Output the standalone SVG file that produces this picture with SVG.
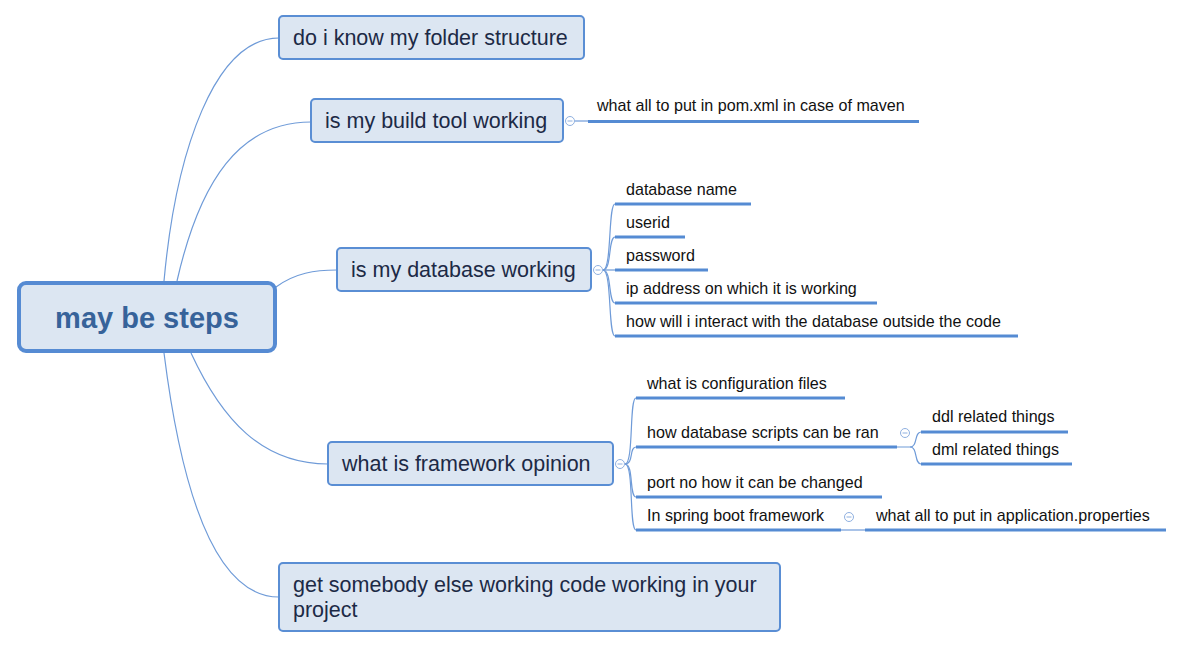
<svg xmlns="http://www.w3.org/2000/svg" width="1184" height="648" viewBox="0 0 1184 648">
<style>
.conn{fill:none;stroke:#6f9bd8;stroke-width:1.2}
.ul{fill:none;stroke:#558bd3;stroke-width:3}
.box{fill:#dce6f2;stroke:#5a8ed4;stroke-width:2}
.root{fill:#dce6f2;stroke:#568bd3;stroke-width:4}
.t{font-family:"Liberation Sans",Arial,sans-serif;font-size:21.5px;fill:#1c2a46}
.rt{font-family:"Liberation Sans",Arial,sans-serif;font-size:29px;font-weight:bold;fill:#37639a}
.s{font-family:"Liberation Sans",Arial,sans-serif;font-size:16.1px;fill:#111}
.col{fill:#fff;stroke:#8fb0e0;stroke-width:1}
.minus{stroke:#8fb0e0;stroke-width:1}
</style>
<rect width="1184" height="648" fill="#fff"/>
<g id="connectors">
<path class="conn" d="M164,281 C176,150 215,38 279,38"/>
<path class="conn" d="M177,281 C200,180 240,122 311,122"/>
<path class="conn" d="M276,287 C295,273 315,270 337,270"/>
<path class="conn" d="M191,353 C222,420 262,464 328,464"/>
<path class="conn" d="M164,353 C180,480 212,597 279,597"/>
<path class="conn" d="M575,121 L588,121"/>
<path class="conn" d="M603,270 C612,270 608,204 615,204"/>
<path class="conn" d="M603,270 C612,270 608,237 615,237"/>
<path class="conn" d="M603,270 L615,270"/>
<path class="conn" d="M603,270 C612,270 608,303 615,303"/>
<path class="conn" d="M603,270 C612,270 608,336 615,336"/>
<path class="conn" d="M625,464 C634,464 629,398 636,398"/>
<path class="conn" d="M625,464 C634,464 629,447 636,447"/>
<path class="conn" d="M625,464 C634,464 629,497 636,497"/>
<path class="conn" d="M625,464 C634,464 629,530 636,530"/>
<path class="conn" d="M897,447 L910,447 C918,447 914,432 921,432"/>
<path class="conn" d="M910,447 C918,447 914,464 921,464"/>
<path class="conn" d="M841,530 L865,530"/>
</g>
<g id="root">
<rect class="root" x="19" y="283" width="256" height="68" rx="7"/>
<text class="rt" x="147" y="328" text-anchor="middle">may be steps</text>
</g>
<g id="n1">
<rect class="box" x="279" y="16" width="305" height="43" rx="4"/>
<text class="t" x="293" y="45">do i know my folder structure</text>
</g>
<g id="n2">
<rect class="box" x="311" y="99" width="252" height="43" rx="4"/>
<text class="t" x="325" y="128">is my build tool working</text>
<circle class="col" cx="570" cy="121" r="4.5"/><line class="minus" x1="567.5" y1="121" x2="572.5" y2="121"/>
</g>
<g id="n2a">
<text class="s" x="597" y="111">what all to put in pom.xml in case of maven</text>
<line class="ul" x1="588" y1="121.5" x2="919" y2="121.5"/>
</g>
<g id="n3">
<rect class="box" x="337" y="248" width="254" height="43" rx="4"/>
<text class="t" x="351" y="277">is my database working</text>
<circle class="col" cx="598" cy="270" r="4.5"/><line class="minus" x1="595.5" y1="270" x2="600.5" y2="270"/>
</g>
<g id="n3a"><text class="s" x="626" y="195">database name</text><line class="ul" x1="615" y1="204" x2="751" y2="204"/></g>
<g id="n3b"><text class="s" x="626" y="228">userid</text><line class="ul" x1="615" y1="237" x2="685" y2="237"/></g>
<g id="n3c"><text class="s" x="626" y="261">password</text><line class="ul" x1="615" y1="270" x2="708" y2="270"/></g>
<g id="n3d"><text class="s" x="626" y="294">ip address on which it is working</text><line class="ul" x1="615" y1="303" x2="877" y2="303"/></g>
<g id="n3e"><text class="s" x="626" y="327">how will i interact with the database outside the code</text><line class="ul" x1="615" y1="336" x2="1018" y2="336"/></g>
<g id="n4">
<rect class="box" x="328" y="442" width="285" height="43" rx="4"/>
<text class="t" x="342" y="471">what is framework opinion</text>
<circle class="col" cx="620" cy="464" r="4.5"/><line class="minus" x1="617.5" y1="464" x2="622.5" y2="464"/>
</g>
<g id="n4a"><text class="s" x="647" y="389">what is configuration files</text><line class="ul" x1="636" y1="398" x2="845" y2="398"/></g>
<g id="n4b"><text class="s" x="647" y="438">how database scripts can be ran</text><line class="ul" x1="636" y1="447" x2="897" y2="447"/>
<circle class="col" cx="905" cy="433" r="4.5"/><line class="minus" x1="902.5" y1="433" x2="907.5" y2="433"/></g>
<g id="n4b1"><text class="s" x="932" y="422">ddl related things</text><line class="ul" x1="921" y1="432" x2="1068" y2="432"/></g>
<g id="n4b2"><text class="s" x="932" y="455">dml related things</text><line class="ul" x1="921" y1="464" x2="1072" y2="464"/></g>
<g id="n4c"><text class="s" x="647" y="488">port no how it can be changed</text><line class="ul" x1="636" y1="497" x2="882" y2="497"/></g>
<g id="n4d"><text class="s" x="647" y="521">In spring boot framework</text><line class="ul" x1="636" y1="530" x2="841" y2="530"/>
<circle class="col" cx="849" cy="517" r="4.5"/><line class="minus" x1="846.5" y1="517" x2="851.5" y2="517"/></g>
<g id="n4d1"><text class="s" x="876" y="521">what all to put in application.properties</text><line class="ul" x1="865" y1="530" x2="1166" y2="530"/></g>
<g id="n5">
<rect class="box" x="279" y="563" width="501" height="68" rx="4"/>
<text class="t" x="293" y="592">get somebody else working code working in your</text>
<text class="t" x="293" y="617">project</text>
</g>
</svg>
